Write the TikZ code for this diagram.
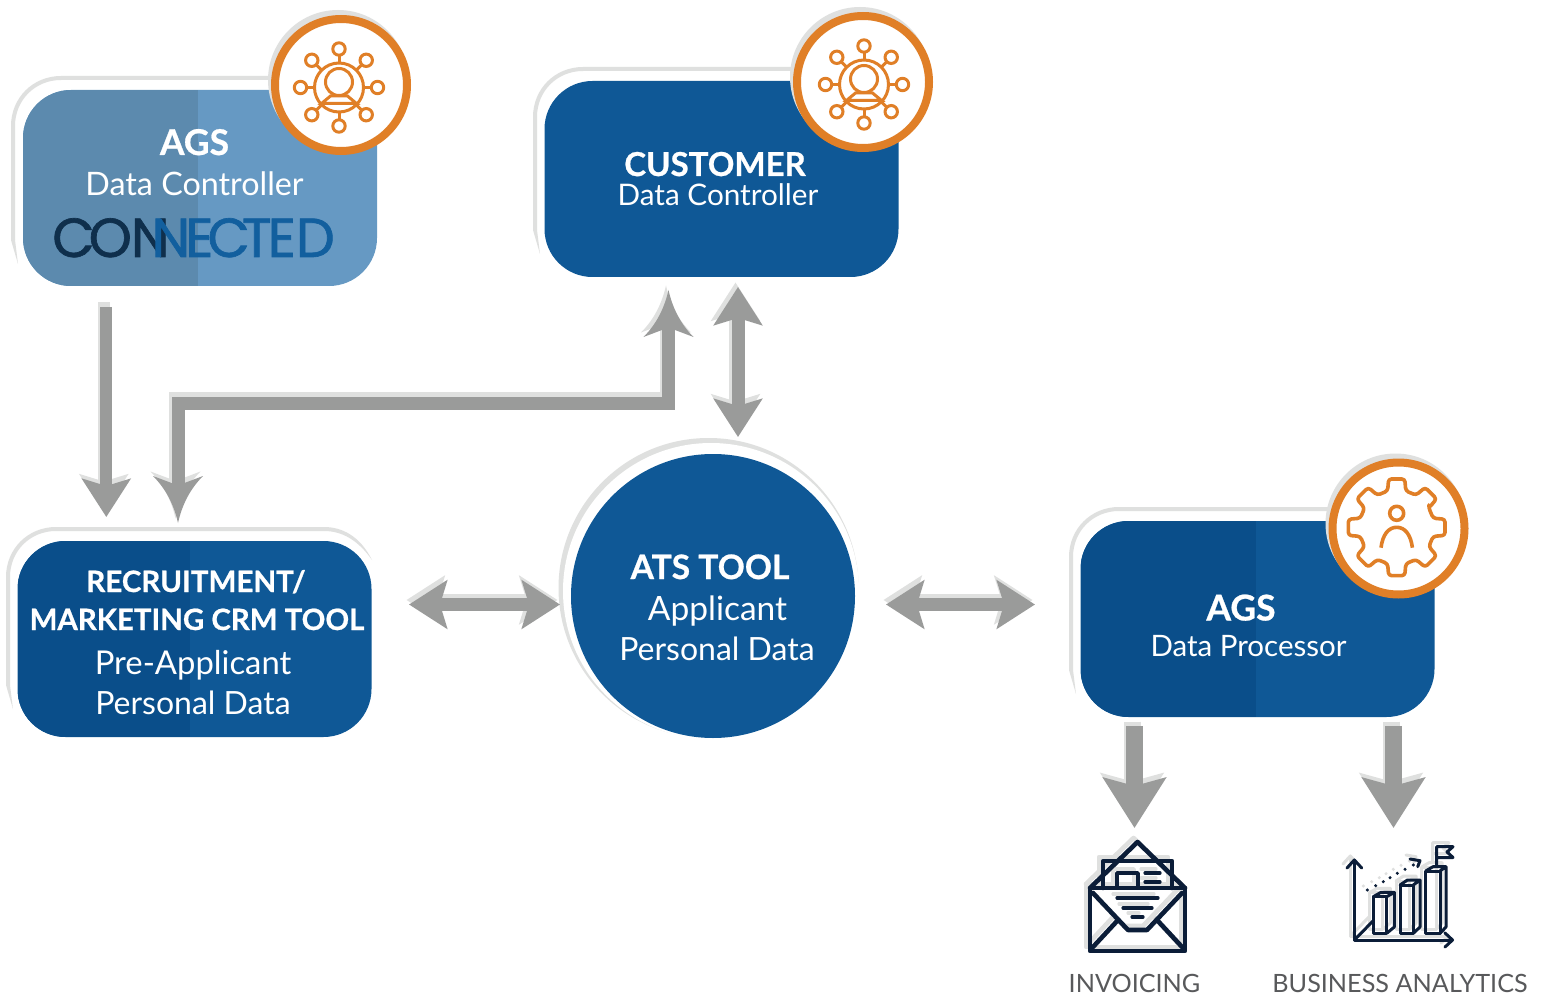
\documentclass[tikz,border=0pt]{standalone}
\usepackage{fontspec}
\setmainfont{Lato}[BoldFeatures={FakeBold=0.7}]
\newfontfamily\logofont{Poppins}[FakeBold=1.2]
\usetikzlibrary{arrows.meta,calc}
\definecolor{arrowgray}{HTML}{9A9B9A}
\definecolor{ghost}{HTML}{DFE0DF}
\definecolor{boxblue}{HTML}{0F5896}
\definecolor{boxdark}{HTML}{0A4E8A}
\definecolor{fadeblue}{HTML}{6699C3}
\definecolor{fadedark}{HTML}{5C8AAE}
\definecolor{badgeorange}{HTML}{E07F27}
\definecolor{navy}{HTML}{0B1D38}
\definecolor{caption}{HTML}{58595B}
\definecolor{logodark}{HTML}{0F2F4C}
\definecolor{logoblue}{HTML}{125F9E}
\newcommand\fs[1]{\fontsize{#1}{#1}\selectfont}
\newcommand\ghostline[4]{%
  \draw[ghost,line width=4pt] (#1,#4) -- (#1,{#2+48})
    .. controls (#1,{#2+21}) and ({#1+21},#2) .. ({#1+48},#2)
    -- ({#3-48},#2);
  \fill[ghost] ({#3-48},{#2-2}) .. controls ({#3-30},{#2-2}) and ({#3-12},{#2+7}) .. (#3,{#2+31})
    .. controls ({#3-14},{#2+11}) and ({#3-30},{#2+2}) .. ({#3-48},{#2+2}) -- cycle;
  \fill[ghost] ({#1-2},#4) -- ({#1+2},#4) -- ({#1+5},{#4+24}) -- cycle;}
\tikzset{
  x=1pt,y=-1pt,
  roundbox/.style={rectangle,rounded corners=48pt,minimum width=354pt,minimum height=196pt,inner sep=0pt},
  halves/.style n args={3}{roundbox,fill=#2,path picture={
      \fill[#1,sharp corners] (path picture bounding box.north west) rectangle
        ([xshift=#3 pt]path picture bounding box.south west);}},
  label/.style={anchor=base,inner sep=0pt,text=white},
  strong/.style={label,font=\bfseries\fs{#1}},
  plain/.style={label,font=\fs{#1}},
  caplabel/.style={anchor=base,inner sep=0pt,text=caption,font=\fs{25.2}},
  badge/.style={circle,draw=badgeorange,fill=white,line width=8pt,minimum size=132pt,inner sep=0pt},
  badgeback/.style={circle,fill=ghost,minimum size=140pt,inner sep=0pt},
  mainlayer/.style={draw=arrowgray},
  backlayer/.style={draw=ghost,transform canvas={xshift=-2.5pt,yshift=4.5pt}},
  headA/.tip={Stealth[length=38pt,width=48pt,inset=7pt]},
  headB/.tip={Stealth[length=50pt,width=62pt,inset=8pt]},
  pics/curvehead/.style={code={
    \fill[#1] (0,0) .. controls (4,18) and (12,34) .. (25,47) -- (6.5,40) -- (-6.5,40) -- (-25,47)
      .. controls (-12,34) and (-4,18) .. (0,0) -- cycle;}},
  pics/neticon/.style={code={
    \begin{scope}[draw=badgeorange,line width=3pt]
    \draw (0,0) circle[radius=24.5pt];
    \foreach \a in {0,45,...,315}{
      \draw (\a:24.5) -- (\a:32);
      \draw (\a:38.5) circle[radius=6.2pt];}
    \draw (0,-5.5) circle[radius=13.5pt];
    \draw (-8.5,8.5) -- (-17.5,16) -- (17.5,16) -- (8.5,8.5) -- cycle;
    \end{scope}}},
  pics/gearicon/.style={code={
    \begin{scope}[draw=badgeorange,line width=3.6pt,line join=round]
    \draw[rounded corners=3pt] (-31:37.5)
      \foreach \a in {0,45,...,315}{ -- (\a-14:37.5) -- (\a-9.5:49) -- (\a+9.5:49) -- (\a+14:37.5)} -- cycle;
    \draw (0,-14) circle[radius=7pt];
    \draw (-15.7,20.4) .. controls (-14,7) and (-8,0) .. (0,0) .. controls (8,0) and (14,7) .. (15.7,20.4);
    \end{scope}}},
  pics/envicon/.style={code={
    \begin{scope}[draw=#1,line width=4.6pt,line join=round,line cap=round]
    \draw (15,58) -- (15,121) -- (110,121) -- (110,58) -- cycle;
    \draw (15,58) -- (62.5,12) -- (110,58);
    \draw (28,58) -- (28,31) -- (97,31) -- (97,58);
    \draw (18,63) -- (53,100) -- (72,100) -- (107,63);
    \draw (17,118) -- (43,90);
    \draw (108,118) -- (82,90);
    \draw[line width=3.6pt] (42,58) -- (42,43) -- (63,43) -- (63,58);
    \draw[line width=3.2pt] (70,43) -- (85,43) (70,52) -- (85,52)
      (42,68) -- (83,68) (48,78) -- (77,78) (57,87) -- (68,87);
    \end{scope}}},
  pics/charticon/.style={code={
    \begin{scope}[draw=#1,line width=3pt,line join=round,line cap=round]
    \draw (19.3,25) -- (19.3,105) -- (117,105);
    \draw (12,33) -- (19.3,25) -- (26.7,33);
    \draw (110,98) -- (117.5,105) -- (110,112);
    \draw (19.3,105) -- (38,86);
    \draw (38.3,61.7) rectangle (51.7,98.3);
    \draw (38.3,61.7) -- (46,57.3) -- (59.3,57.3) -- (51.7,61.7) (59.3,57.3) -- (59.3,92) -- (51.7,98.3);
    \draw (65,50) rectangle (78.3,98.3);
    \draw (65,50) -- (72.5,45) -- (85,45) -- (78.3,50) (85,45) -- (85,92) -- (78.3,98.3);
    \draw (90.7,36) rectangle (105,98.3);
    \draw (90.7,36) -- (98,31.7) -- (111,31.7) -- (105,36) (111,31.7) -- (111,92) -- (105,98.3);
    \draw (101.7,31) -- (101.7,11.7) -- (118,11.7) -- (112,17) -- (118,22.5) -- (101.7,22.5);
    \draw (75,24) -- (85,25.7) -- (82.7,31.7);
    \foreach \p in {(32.3,55),(40.7,50.7),(48.3,46.7),(55,42.7),(62.3,38.3),(70,34.3),(78.3,30)}
      \fill[#1] \p circle[radius=1.7pt];
    \end{scope}}}
}
\begin{document}
\begin{tikzpicture}
\useasboundingbox (0,0) rectangle (1543,995);
\fill[white] (0,0) rectangle (1543,995);

% ghost outlines
\ghostline{13}{78}{377}{240}
\ghostline{535}{69}{898}{230}
\ghostline{8}{529}{372}{685}
\ghostline{1071}{509}{1434}{670}
\node[circle,fill=ghost,minimum size=300pt,inner sep=0pt] (atsghost) at (708.5,588) {};
\node[circle,fill=white,minimum size=296pt,inner sep=0pt] (atsgap) at (711,591) {};

% boxes
\node[halves={fadedark}{fadeblue}{175}] (ags) at (200,188) {};
\node[roundbox,fill=boxblue] (customer) at (721.5,179) {};
\node[halves={boxdark}{boxblue}{172}] (crm) at (194.5,639) {};
\node[circle,fill=boxblue,minimum size=284pt,inner sep=0pt] (ats) at (713,596) {};
\node[halves={boxdark}{boxblue}{175}] (proc) at (1257.5,619) {};

% badges
\node[badgeback] (b1g) at (338,80) {};
\node[badgeback] (b2g) at (860,77) {};
\node[badgeback] (b3g) at (1395.5,523.5) {};
\node[badge] (b1) at (341,85) {};
\node[badge] (b2) at (863,82) {};
\node[badge] (b3) at (1398.5,528.5) {};
\pic at (339,87.5) {neticon};
\pic at (864,84.5) {neticon};
\pic at (1396.7,527.3) {gearicon};

% connectors
\coordinate (a1s) at (106.3,307);
\coordinate (a1e) at (106.3,517);
\coordinate (e0) at (178,523);
\coordinate (e1) at (178,484);
\coordinate (e2) at (178,403);
\coordinate (e3) at (668.5,403);
\coordinate (e4) at (668.5,329);
\coordinate (e5) at (668.5,290);
\coordinate (d1) at (738,287);
\coordinate (d2) at (738,437);
\coordinate (h1) at (409,604.5);
\coordinate (h2) at (560,604.5);
\coordinate (h3) at (886,604.5);
\coordinate (h4) at (1035,604.5);
\coordinate (p1s) at (1134.5,726);
\coordinate (p1e) at (1134.5,828);
\coordinate (p2s) at (1393.5,726);
\coordinate (p2e) at (1393.5,828);
\foreach \st/\col in {backlayer/ghost,mainlayer/arrowgray}{
  \draw[\st,line width=12pt,-{headA}] (a1s) -- (a1e);
  \draw[\st,line width=13pt] (e1) -- (e2) -- (e3) -- (e4);
  \begin{scope}[\st]
    \pic at (e5) {curvehead=\col};
    \pic[yscale=-1] at (e0) {curvehead=\col};
  \end{scope}
  \draw[\st,line width=13pt,{headA}-{headA}] (d1) -- (d2);
  \draw[\st,line width=13pt,{headA}-{headA}] (h1) -- (h2);
  \draw[\st,line width=13pt,{headA}-{headA}] (h3) -- (h4);
  \draw[\st,line width=17pt,-{headB}] (p1s) -- (p1e);
  \draw[\st,line width=17pt,-{headB}] (p2s) -- (p2e);
}

% texts
\node[strong=35.5] (t1) at (194.5,155) {AGS};
\node[plain=32.3] (t2) at (194.5,195.5) {Data Controller};
\node[anchor=base,inner sep=0pt,font=\logofont\fs{55}] (logo) at (193.5,257)
  {\textcolor{logodark}{C\kern-6ptO\kern-1ptN}\kern-18pt\textcolor{logoblue}{N\kern-5ptE\kern-6ptC\kern-8ptT\kern-4ptE\kern0ptD}};
\node[strong=33] (t3) at (715,176) {CUSTOMER};
\node[plain=29.7] (t4) at (718,206) {Data Controller};
\node[strong=29.5] (t5) at (196,592) {RECRUITMENT/};
\node[strong=29.4] (t6) at (197,630) {MARKETING CRM TOOL};
\node[plain=32.8] (t7) at (193,674) {Pre-Applicant};
\node[plain=32] (t8) at (193,714) {Personal Data};
\node[strong=33.6] (t9) at (710,579) {ATS TOOL};
\node[plain=33.5] (t10) at (717.5,620) {Applicant};
\node[plain=32] (t11) at (717,660) {Personal Data};
\node[strong=35.5] (t12) at (1241,620.5) {AGS};
\node[plain=29.5] (t13) at (1248.5,656.5) {Data Processor};

% output icons
\pic at (1071,826) {envicon=ghost};
\pic at (1075,830) {envicon=navy};
\pic at (1331,831) {charticon=ghost};
\pic at (1335,835) {charticon=navy};
\node[caplabel] (c1) at (1134.5,992.5) {INVOICING};
\node[caplabel] (c2) at (1400,992.5) {BUSINESS ANALYTICS};
\end{tikzpicture}
\end{document}
